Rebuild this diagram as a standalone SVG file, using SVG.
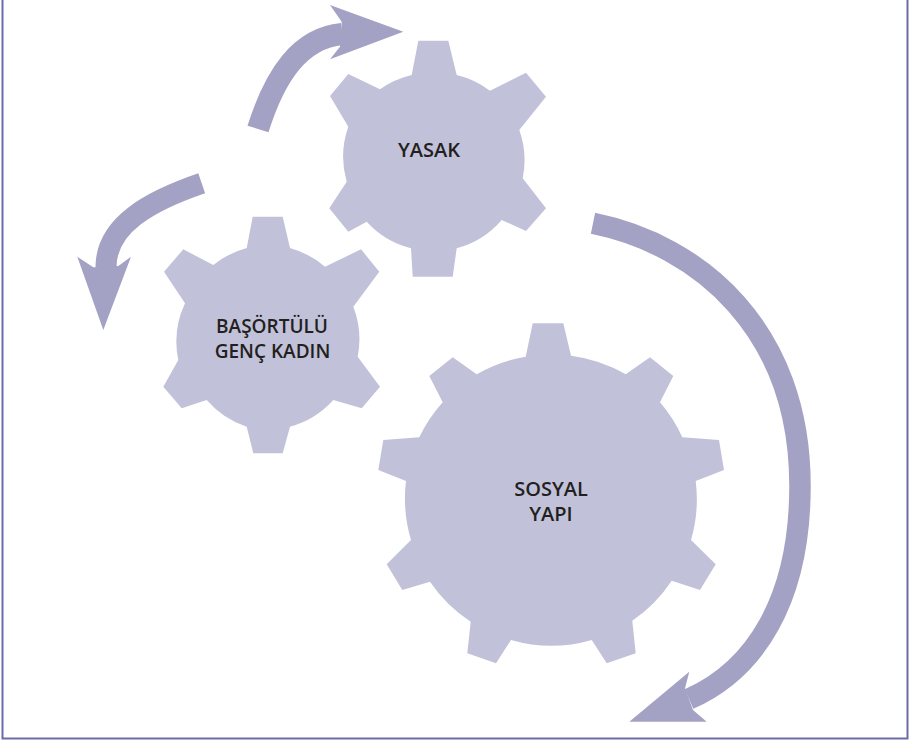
<svg xmlns="http://www.w3.org/2000/svg" width="909" height="743" viewBox="0 0 909 743">
<style>
.gear{fill:#c1c2d9}
.shaft{fill:none;stroke:#a3a2c4;stroke-linecap:butt}
.head{fill:#a3a2c4}
.lbl{font-family:"Open Sans","Noto Sans","Liberation Sans",sans-serif;font-weight:600;font-size:20px;fill:#231f20;text-anchor:middle}
.sm{font-size:19px}
.frame{fill:none;stroke:#6e6aa8;stroke-width:2}
</style>
<rect width="909" height="743" fill="#ffffff"/>
<path class="frame" d="M2.5,0 V738.5 H907.5 V0"/>

<g id="connectors">
  <g id="arrow-top">
    <path class="shaft" stroke-width="22" d="M258,129 C275,75 300,38 342,34"/>
    <polygon class="head" points="403.3,31.7 330,5 341.7,21.7 340,46.7 330,59.3"/>
  </g>
  <g id="arrow-left">
    <path class="shaft" stroke-width="21" d="M201.7,183.3 C150,201 106,225 106,267"/>
    <polygon class="head" points="77.3,256.7 93.3,267.3 118.3,266 131,256.7 103.3,330"/>
  </g>
  <g id="arrow-right">
    <path class="shaft" stroke-width="21.5" d="M593,223.3 C700,245 800,330 800,486 C800,600 755,670 689,699"/>
    <polygon class="head" points="629.3,721.7 689.3,671.7 685,688.3 693,710 706.7,721.7"/>
  </g>
</g>

<g id="node-yasak">
  <path class="gear" d="M411.7,75 L418.3,40.7 L448.3,40.7 L456.7,75 A90,90 0 0 1 490,90.7 L526,72.7 L546,96.7 L519.3,130 A90,90 0 0 1 522.7,178.3 L546,208.3 L526,231 L501.7,220 A90,90 0 0 1 456.7,248.3 L452.7,276.7 L412.7,276.7 L411,248.3 A90,90 0 0 1 366.7,221.7 L348.3,231.7 L329.3,208.3 L346.7,181.7 A90,90 0 0 1 348.3,126.7 L330,96 L348.3,74 L380,89.3 A90,90 0 0 1 411.7,75 Z"/>
  <text class="lbl" x="429" y="156.7">YASAK</text>
</g>

<g id="node-basortulu">
  <path class="gear" d="M246.7,248 L252.7,216.7 L282.7,216.7 L290,248 A90,90 0 0 1 325,266.7 L361,249.3 L379.3,271.7 L353.3,306.7 A90,90 0 0 1 357.7,356.7 L380,386.7 L361.7,408.3 L333.3,400 A90,90 0 0 1 290,426.7 L282.7,453.3 L253.3,453.3 L246.7,426.7 A90,90 0 0 1 206.7,400 L181.7,408.3 L163.3,386.7 L178.3,360 A90,90 0 0 1 185,303.3 L164,271.7 L183.3,249.3 L213.3,265 A90,90 0 0 1 246.7,248 Z"/>
  <text class="lbl sm" x="272" y="332.5">BAŞÖRTÜLÜ</text>
  <text class="lbl sm" x="272.5" y="357.5">GENÇ KADIN</text>
</g>

<g id="node-sosyal">
  <path class="gear" d="M525.7,356.7 L532.7,323.3 L563.3,323.3 L571,355.7 A145,145 0 0 1 625.7,374.3 L650,357.3 L673.3,376 L660,402.3 A145,145 0 0 1 682.3,437.3 L719,440 L724,470 L695.7,481 A145,145 0 0 1 691,540 L715.7,564.3 L700,590 L671.7,580.7 A145,145 0 0 1 632.3,620.7 L635.7,653.3 L606.7,663.3 L591.7,640 A145,145 0 0 1 511,640 L496,663.3 L467.3,653.3 L470.7,621.7 A145,145 0 0 1 430,581.7 L402.3,590 L386.7,564.3 L411,540 A145,145 0 0 1 406,481 L378.3,470 L383.3,440 L419.3,437.3 A145,145 0 0 1 442.7,402.3 L429.3,376 L452.7,357.3 L476.7,374.3 A145,145 0 0 1 525.7,356.7 Z"/>
  <text class="lbl" x="551" y="496">SOSYAL</text>
  <text class="lbl" x="551" y="521">YAPI</text>
</g>
</svg>
